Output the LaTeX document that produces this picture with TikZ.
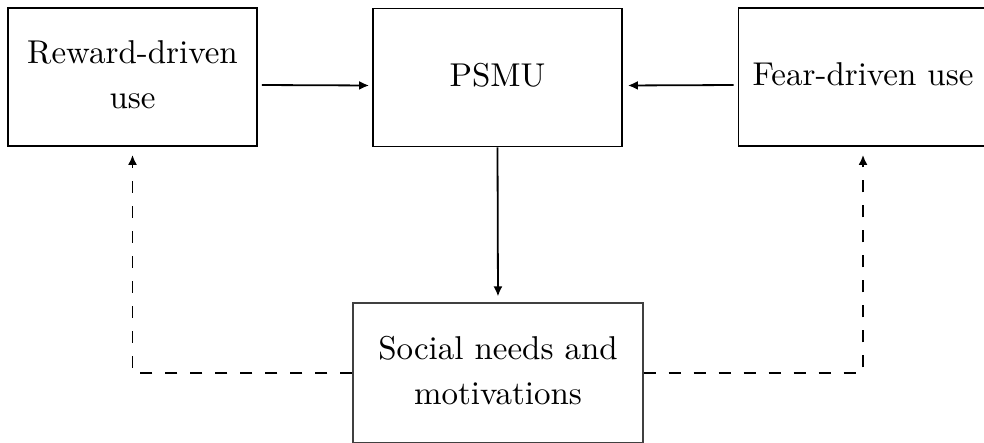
\documentclass[tikz,border=0pt]{standalone}
\usetikzlibrary{arrows.meta}

\newcommand{\boxtext}[1]{\scalebox{1.65}{\fontsize{10}{13.6}\selectfont
  \begin{tabular}{@{}c@{}}#1\end{tabular}}}

\begin{document}
\begin{tikzpicture}[x=0.5pt,y=-0.5pt,
    box/.style={draw,line width=0.9pt,inner sep=0pt,
      minimum width=124.5pt,minimum height=69pt},
    link/.style={line width=0.9pt,-{Latex[length=5pt,width=4.5pt]}},
    dashlink/.style={link,dash pattern=on 6pt off 6.5pt}]

  \useasboundingbox (0,0) rectangle (984,443);

  % boxes
  \node[box] (rw) at (132.5,77) {\boxtext{Reward-driven\\use}};
  \node[box] (ps) at (497.5,77.5) {\boxtext{PSMU}};
  \node[box] (fr) at (863,77) {\boxtext{Fear-driven use}};
  \node[box,minimum width=145pt,minimum height=70pt,
    line width=0.6pt,draw=black!75] (sn) at (498,373) {\boxtext{Social needs and\\motivations}};

  % solid arrows into PSMU and down
  \draw[link,shorten <=2pt,shorten >=1.5pt] ([yshift=-4pt]rw.east) -- ([yshift=-4pt]ps.west);
  \draw[link,shorten <=2pt,shorten >=2.5pt] ([yshift=-4pt]fr.west) -- ([yshift=-4pt]ps.east);
  \draw[link,shorten >=3pt] (ps.south) -- (sn.north);

  % dashed feedback lines
  \draw[dashlink,shorten >=4pt] (sn.west) -| (rw.south);
  \draw[dashlink,shorten >=4pt] (sn.east) -| (fr.south);
\end{tikzpicture}
\end{document}
